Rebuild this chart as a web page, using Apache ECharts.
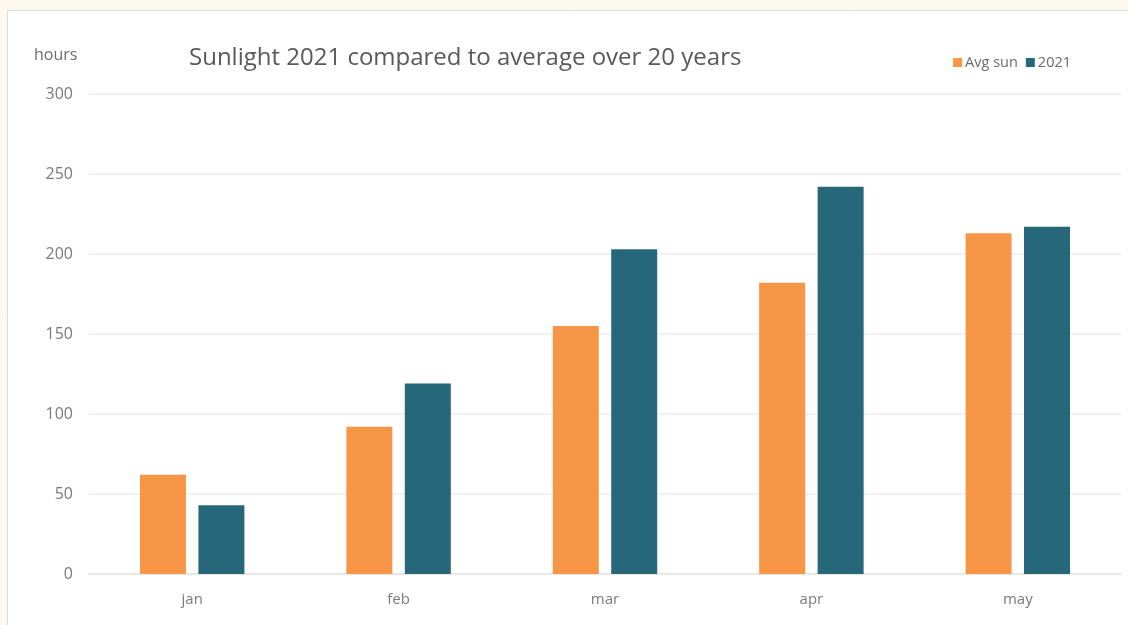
<!DOCTYPE html>
<html>
<head>
<meta charset="utf-8">
<script src="https://cdn.jsdelivr.net/npm/echarts@6/dist/echarts.min.js"></script>
<style>
html,body{margin:0;padding:0;background:#fdf9ee;}
#c{width:1128px;height:625px;}
</style>
</head>
<body>
<div id="c"></div>
<script>
const categories = ['jan', 'feb', 'mar', 'apr', 'may'];
const avgSun = [62, 92, 155, 182, 213];
const sun2021 = [43, 119, 203, 242, 217];
const yTicks = [0, 50, 100, 150, 200, 250, 300];

const chart = echarts.init(document.getElementById('c'));
chart.setOption({
  backgroundColor: '#fdf9ee',
  animation: false,
  graphic: [{
    type: 'rect', z: -10, silent: true,
    shape: {x: 7.5, y: 10.5, width: 1130, height: 630},
    style: {fill: '#ffffff', stroke: '#dcdcdc', lineWidth: 1}
  }],
  title: [{
    text: 'Sunlight 2021 compared to average over 20 years',
    left: 184, top: 41,
    textStyle: {fontFamily: 'Open Sans', fontSize: 24, fontWeight: 'normal', color: '#595959'}
  }, {
    text: 'hours',
    left: 29, top: 42,
    textStyle: {fontFamily: 'Open Sans', fontSize: 16, fontWeight: 'normal', color: '#6b6b6b'}
  }],
  legend: {
    data: ['Avg sun', '2021'],
    right: 52, top: 50,
    itemWidth: 9, itemHeight: 9, itemGap: 8,
    icon: 'rect',
    textStyle: {fontFamily: 'Open Sans', fontSize: 14.5, color: '#6b6b6b', padding: [0, 0, 0, -2]}
  },
  grid: {left: 89, right: 7, top: 94, bottom: 51, containLabel: false},
  xAxis: {
    type: 'category', data: categories,
    axisLine: {lineStyle: {color: '#e3e3e3', width: 1.5}},
    axisTick: {show: false},
    axisLabel: {fontFamily: 'Open Sans', fontSize: 15, color: '#7a7a7a', margin: 18}
  },
  yAxis: {
    type: 'value', min: yTicks[0], max: yTicks[yTicks.length - 1], interval: 50,
    axisLine: {show: false}, axisTick: {show: false},
    splitLine: {lineStyle: {color: '#ececec', width: 1.5}},
    axisLabel: {fontFamily: 'Open Sans', fontSize: 16, color: '#7a7a7a', margin: 16}
  },
  series: [{
    name: 'Avg sun', type: 'bar', data: avgSun,
    barWidth: 46, barGap: '27%',
    itemStyle: {color: '#f79646'}
  }, {
    name: '2021', type: 'bar', data: sun2021,
    barWidth: 46,
    itemStyle: {color: '#26687a'}
  }]
});
</script>
</body>
</html>
